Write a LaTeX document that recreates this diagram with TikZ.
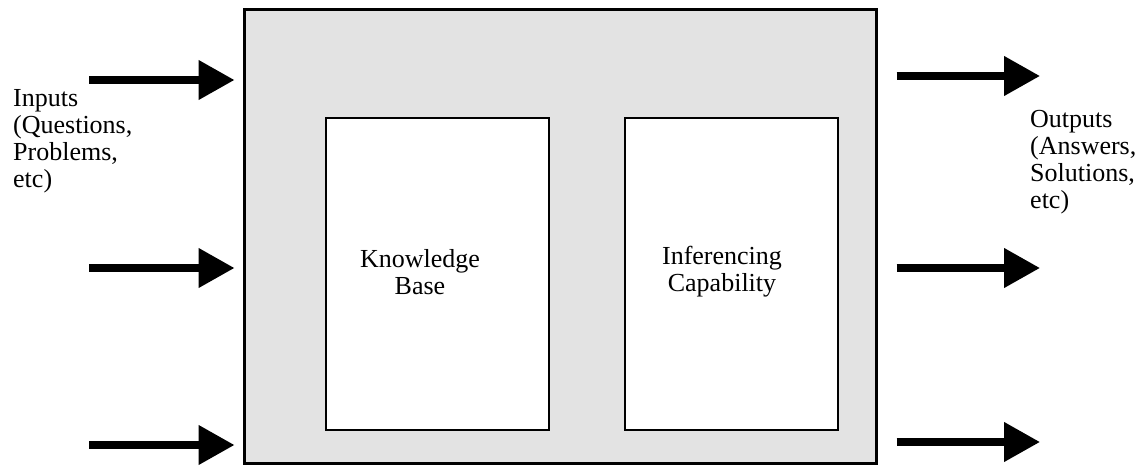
\documentclass[tikz,border=0pt]{standalone}
\usepackage{fontspec}
\setmainfont{Liberation Serif}
\usetikzlibrary{arrows.meta,positioning}

\begin{document}
\begin{tikzpicture}[
	x=1pt, y=-1pt,
	every node/.style = {font=\fontsize{26}{27}\selectfont},
	system/.style = {draw, line width=3pt, fill=black!11,
		minimum width=632pt, minimum height=453pt},
	part/.style = {draw, line width=2pt, fill=white,
		minimum height=312pt},
	label/.style = {align=left, inner sep=0pt, anchor=north west},
	flow/.style = {line width=7.5pt,
		-{Triangle[length=36pt,width=38pt]}}
]
\useasboundingbox (0,0) rectangle (1139,468);

\node[system] (sys) at (560,236.5) {};
\node[part, minimum width=223pt] (kb) at (437.5,274) {};
\node[part, minimum width=213pt] (ic) at (731.5,274) {};
\node[align=center] (kbtext) at (420,272) {Knowledge\\Base};
\node[align=center] (ictext) at (722,272) {Inferencing\\Capability};

\node[label] (inputs) at (13,89) {Inputs\\(Questions,\\Problems,\\etc)};
\node[label] (outputs) at (1030,110) {Outputs\\(Answers,\\Solutions,\\etc)};

% inputs
\foreach \i/\y in {1/80, 2/268, 3/445} {
	\coordinate (in\i) at (89,\y);
	\draw[flow, shorten >=8pt] (in\i) -- (in\i -| sys.west);
}
% outputs
\foreach \i/\y in {1/76, 2/268, 3/442} {
	\coordinate (out\i) at (1040,\y);
	\draw[flow, shorten <=19pt] (out\i -| sys.east) -- (out\i);
}
\end{tikzpicture}
\end{document}
